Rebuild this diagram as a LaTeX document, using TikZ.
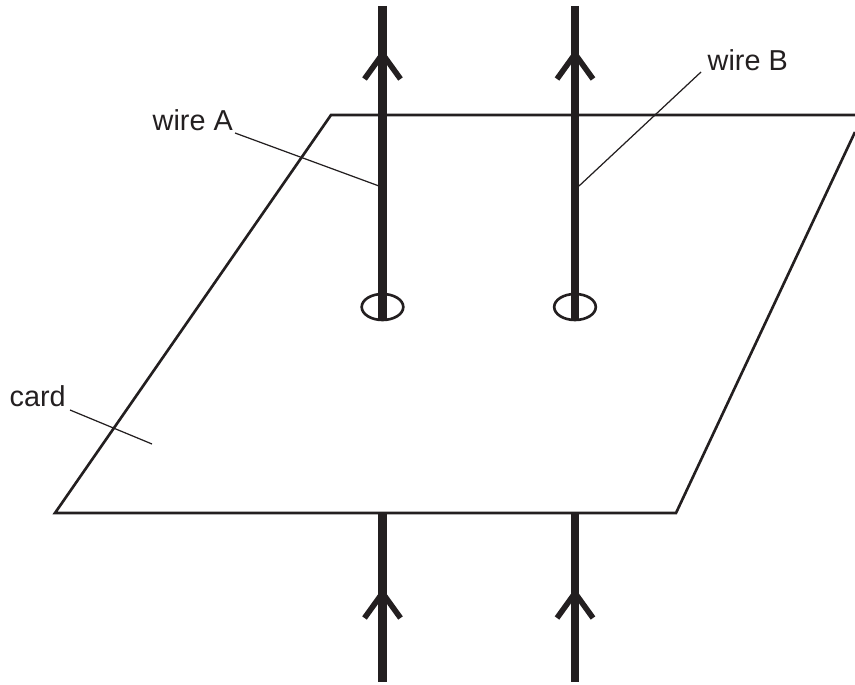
\documentclass[tikz,border=0pt]{standalone}
\usepackage{xcolor}
\usepackage{fontspec}
\setmainfont{Liberation Sans}
\definecolor{inkblack}{RGB}{35,31,32}
\tikzset{
	wire/.style={line width=2.35pt,inkblack},
	barb/.style={line width=1.6pt,inkblack},
	edge/.style={line width=.75pt,inkblack},
	leader/.style={line width=.35pt,inkblack},
	hole/.style={line width=.75pt,inkblack},
	tag/.style={font=\fontsize{8.2pt}{10pt}\selectfont,text=inkblack,inner sep=0pt}
}

\begin{document}
\begin{tikzpicture}[scale=1]
	\useasboundingbox (0,0) rectangle (8.55,6.84);
	
	% Cartao
	\coordinate (C1) at (3.31,5.69);
	\coordinate (C2) at (8.55,5.69);
	\coordinate (C3) at (6.76,1.71);
	\coordinate (C4) at (.55,1.71);
	\coordinate (C5) at (8.55,5.52);
	\draw[edge,line join=miter] (C2) -- (C1) -- (C4) -- (C3) -- (C5);
	
	% Fio A - cima
	\coordinate (A1) at (3.825,6.78);
	\coordinate (A2) at (3.825,3.63);
	\draw[wire] (A1) -- (A2);
	\draw[hole] (3.825,3.77) ellipse (.208cm and .13cm);
	\coordinate (A3) at (3.825,6.3);
	\draw[barb] (3.645,6.05) -- (A3) -- (4.005,6.05);
	
	% Fio B - cima
	\coordinate (B1) at (5.75,6.78);
	\coordinate (B2) at (5.75,3.63);
	\draw[wire] (B1) -- (B2);
	\draw[hole] (5.75,3.77) ellipse (.208cm and .13cm);
	\coordinate (B3) at (5.75,6.3);
	\draw[barb] (5.57,6.05) -- (B3) -- (5.93,6.05);
	
	% Fio A - baixo
	\coordinate (A4) at (3.825,1.71);
	\coordinate (A5) at (3.825,.02);
	\draw[wire] (A4) -- (A5);
	\coordinate (A6) at (3.825,.91);
	\draw[barb] (3.645,.66) -- (A6) -- (4.005,.66);
	
	% Fio B - baixo
	\coordinate (B4) at (5.75,1.71);
	\coordinate (B5) at (5.75,.02);
	\draw[wire] (B4) -- (B5);
	\coordinate (B6) at (5.75,.91);
	\draw[barb] (5.57,.66) -- (B6) -- (5.93,.66);
	
	% Rotulos
	\node[tag,anchor=base west] (wireA) at (1.52,5.53) {wire A};
	\node[tag,anchor=base west] (wireB) at (7.07,6.13) {wire B};
	\node[tag,anchor=base west] (card) at (.09,2.77) {card};
	
	\coordinate (LA) at (3.79,4.98);
	\coordinate (LB) at (5.79,4.98);
	\coordinate (LC) at (1.52,2.4);
	\draw[leader] (2.35,5.51) -- (LA);
	\draw[leader] (7.01,6.12) -- (LB);
	\draw[leader] (.7,2.74) -- (LC);
\end{tikzpicture}
\end{document}
